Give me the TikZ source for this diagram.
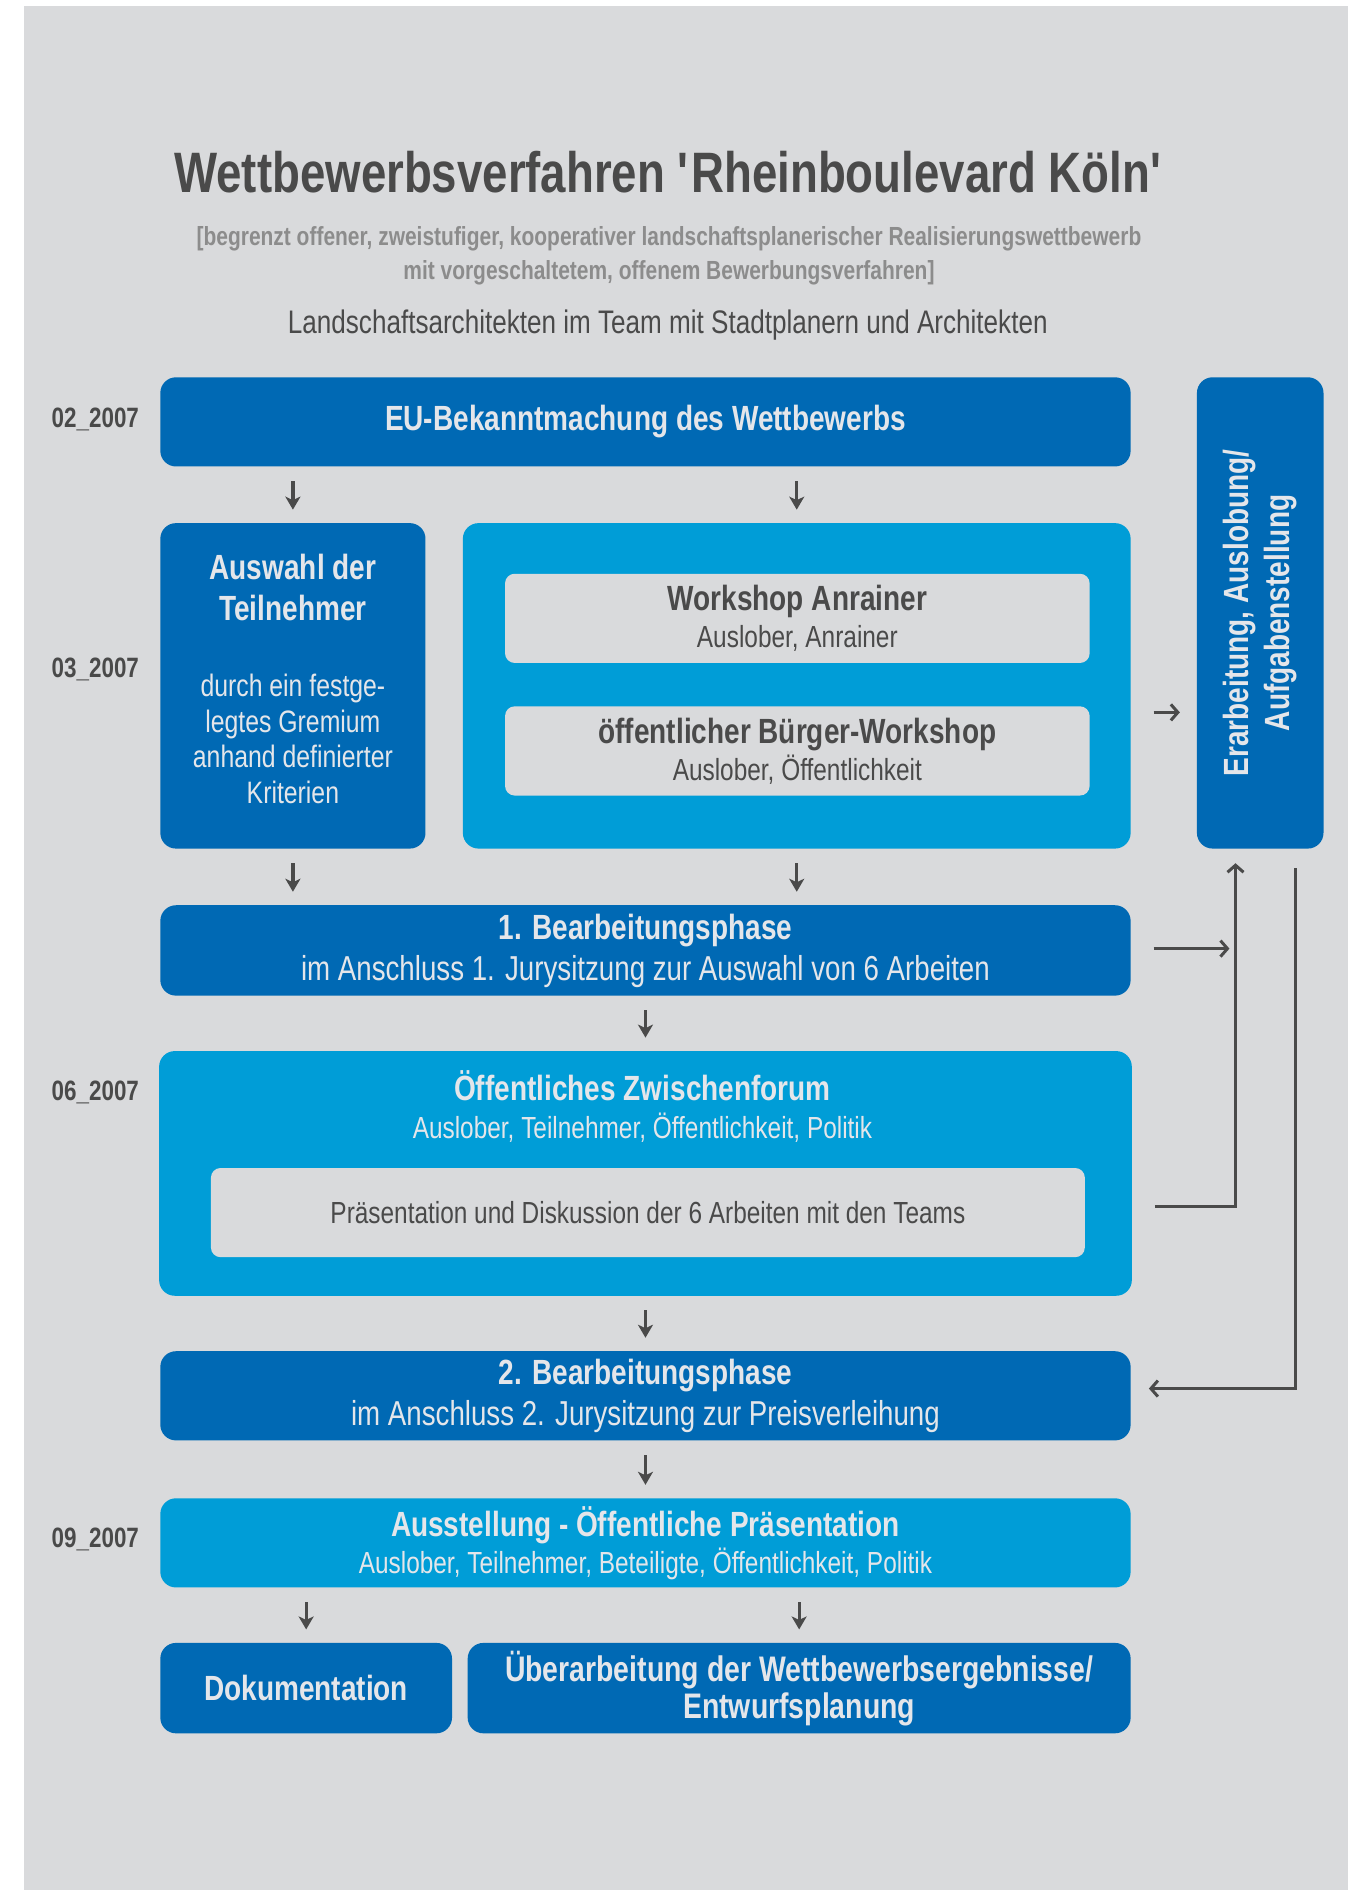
\documentclass[tikz,border=0pt]{standalone}
\usepackage{fontspec}
\setmainfont{Liberation Sans}[FakeStretch=0.8]
\usepackage{tikz}
\usetikzlibrary{arrows.meta}

\definecolor{bgGray}{HTML}{D9DADC}
\definecolor{boxDark}{HTML}{0069B4}
\definecolor{boxLight}{HTML}{009DD7}
\definecolor{boxText}{HTML}{E4E6EA}
\definecolor{inkDark}{HTML}{4A4A4A}
\definecolor{inkGray}{HTML}{8C8C8C}

\newcommand{\px}{1.2052pt}
\newcommand{\fs}[2]{\fontsize{#1pt}{#2pt}\selectfont}

\tikzset{
	box/.style={rounded corners=13*\px, inner sep=0pt, align=center, text=boxText},
	dark/.style={box, fill=boxDark},
	light/.style={box, fill=boxLight},
	inner/.style={rounded corners=8*\px, inner sep=0pt, align=center, fill=bgGray, text=inkDark},
	flow/.style={draw=inkDark, line width=3.2pt, shorten <=12*\px, shorten >=11*\px,
		-{Stealth[length=13pt,width=15pt,inset=3.5pt]}},
	link/.style={draw=inkDark, line width=3pt, -{Straight Barb[length=7pt,width=16pt]}},
	date/.style={anchor=west, text=inkDark, font=\bfseries\fs{28}{30}}
}

\begin{document}
\begin{tikzpicture}[x=\px,y=-\px]
	\useasboundingbox (0,0) rectangle (1126,1568);
	\fill[white] (0,0) rectangle (1126,1568);
	\fill[bgGray] (20,5) rectangle (1118,1568);

	% heading
	\node[font=\bfseries\fs{57}{60}, text=inkDark] (title) at (555,143)
		{Wettbewerbsverfahren \textquotesingle Rheinboulevard Köln\textquotesingle};
	\node[font=\bfseries\fs{26.2}{34}, text=inkGray, align=center] (subtitle) at (555,212)
		{[begrenzt offener, zweistufiger, kooperativer landschaftsplanerischer Realisierungswettbewerb\\
		mit vorgeschaltetem, offenem Bewerbungsverfahren]};
	\node[font=\fs{32.6}{34}, text=inkDark] (teams) at (554,270)
		{Landschaftsarchitekten im Team mit Stadtplanern und Architekten};

	\foreach \m/\y in {02/348,03/555,06/906,09/1277}
		\node[date] (date\m) at (40,\y) {\m\_2007};

	% boxes
	\node[dark, minimum width=805*\px, minimum height=74*\px, font=\bfseries\fs{35}{41}] (eu) at (535.5,350)
		{EU-Bekanntmachung des Wettbewerbs};
	\node[dark, minimum width=105*\px, minimum height=391*\px] (auf) at (1045.5,508.5) {};
	\node[rotate=90, text=boxText, align=center, font=\bfseries\fs{35}{41}] (aufText) at (auf)
		{Erarbeitung, Auslobung/\\Aufgabenstellung};

	\node[dark, minimum width=220*\px, minimum height=270*\px] (auswahl) at (243,569) {};
	\node[text=boxText, align=center, font=\bfseries\fs{35}{41}] (auswahlHead) at (243,487)
		{Auswahl der\\Teilnehmer};
	\node[text=boxText, align=center, font=\fs{31}{35.5}] (auswahlBody) at (243,613)
		{durch ein festge-\\legtes Gremium\\anhand definierter\\Kriterien};
	\node[light, minimum width=554*\px, minimum height=270*\px] (workshops) at (661,569) {};
	\node[inner, minimum width=485*\px, minimum height=74*\px, font=\fs{30.5}{37}] (anrainer) at (661.5,513)
		{{\bfseries\fs{35}{37}Workshop Anrainer}\\Auslober, Anrainer};
	\node[inner, minimum width=485*\px, minimum height=74*\px, font=\fs{30.5}{37}] (buerger) at (661.5,623)
		{{\bfseries\fs{35}{37}öffentlicher Bürger-Workshop}\\Auslober, Öffentlichkeit};

	\node[dark, minimum width=805*\px, minimum height=75*\px, font=\fs{34.6}{41}] (phase1) at (535.5,788.5)
		{{\bfseries\fs{35}{41}1. Bearbeitungsphase}\\im Anschluss 1. Jurysitzung zur Auswahl von 6 Arbeiten};

	\node[light, minimum width=807*\px, minimum height=203*\px] (forum) at (535.5,973.5) {};
	\node[text=boxText, align=center, font=\fs{30.5}{38}] (forumText) at (533,918)
		{{\bfseries\fs{35}{38}Öffentliches Zwischenforum}\\Auslober, Teilnehmer, Öffentlichkeit, Politik};
	\node[inner, minimum width=725*\px, minimum height=74*\px, font=\fs{30.5}{36}] (praes) at (537.5,1006)
		{Präsentation und Diskussion der 6 Arbeiten mit den Teams};

	\node[dark, minimum width=805*\px, minimum height=74*\px, font=\fs{34.6}{41}] (phase2) at (535.5,1158)
		{{\bfseries\fs{35}{41}2. Bearbeitungsphase}\\im Anschluss 2. Jurysitzung zur Preisverleihung};
	\node[light, minimum width=805*\px, minimum height=74*\px, font=\fs{30.5}{37}] (ausst) at (535.5,1280)
		{{\bfseries\fs{35}{37}Ausstellung - Öffentliche Präsentation}\\
		Auslober, Teilnehmer, Beteiligte, Öffentlichkeit, Politik};
	\node[dark, minimum width=242*\px, minimum height=75*\px, font=\bfseries\fs{35}{37}] (doku) at (254,1400.5)
		{Dokumentation};
	\node[dark, minimum width=550*\px, minimum height=75*\px, font=\bfseries\fs{35.5}{37}] (ueber) at (663,1400.5)
		{Überarbeitung der Wettbewerbsergebnisse/\\Entwurfsplanung};

	% short arrows between the rows
	\foreach \a/\b in {eu/auswahl,eu/workshops,ausst/doku,ausst/ueber}
		\draw[flow] (\a.south -| \b.north) -- (\b.north);
	\foreach \a/\b in {auswahl/phase1,workshops/phase1,phase1/forum,forum/phase2,phase2/ausst}
		\draw[flow] (\a.south) -- (\a.south |- \b.north);

	% side connections
	\coordinate (rise) at (1025,1001);
	\draw[link, shorten <=19*\px, shorten >=14*\px] ([yshift=-22*\px]workshops.east) -- ([yshift=-22*\px]workshops.east -| auf.west);
	\draw[link, shorten <=19*\px, shorten >=5*\px] ([yshift=1.5*\px]phase1.east) -- ([yshift=1.5*\px]phase1.east -| rise);
	\draw[link, shorten >=12*\px] ([xshift=19*\px]forum.east |- rise) -| ([xshift=-20.5*\px]auf.south);
	\draw[link, shorten <=16*\px, shorten >=15*\px] ([xshift=29.5*\px]auf.south) |- ([yshift=6*\px]phase2.east);
\end{tikzpicture}
\end{document}
